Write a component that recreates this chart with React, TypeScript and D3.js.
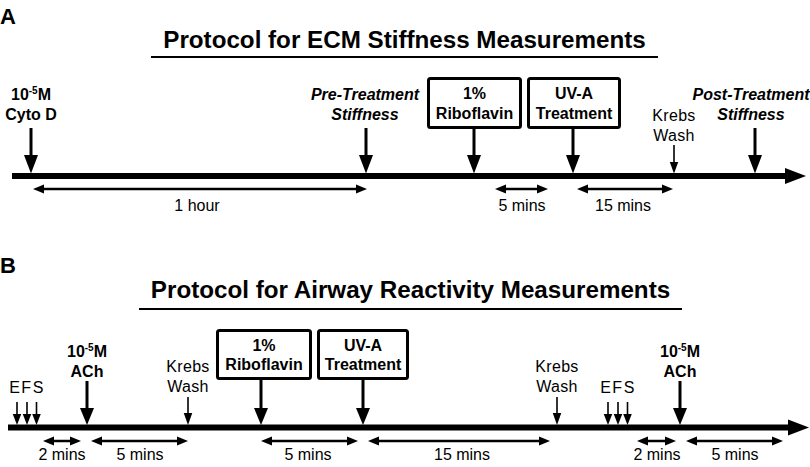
import React from "react";
import * as d3 from "d3";

const W = 810;
const H = 467;
const FONT = "'Liberation Sans', Arial, Helvetica, sans-serif";

// Panel titles
const panelLetters = ["A", "B"];
const panelTitles = [
  "Protocol for ECM Stiffness Measurements",
  "Protocol for Airway Reactivity Measurements",
];

// Events: position along the timeline (diagram units), kind, label lines
type Ev = { at: number; labelAt?: number; kind: "thick" | "thin" | "box" | "efs"; lines: string[]; style?: "bold" | "italic" | "normal" | "conc" };

const eventsA: Ev[] = [
  { at: 31, kind: "thick", lines: ["10-5M", "Cyto D"], style: "conc" },
  { at: 366, labelAt: 365, kind: "thick", lines: ["Pre-Treatment", "Stiffness"], style: "italic" },
  { at: 474, kind: "box", lines: ["1%", "Riboflavin"], style: "bold" },
  { at: 573, kind: "box", lines: ["UV-A", "Treatment"], style: "bold" },
  { at: 674, kind: "thin", lines: ["Krebs", "Wash"], style: "normal" },
  { at: 755, labelAt: 751, kind: "thick", lines: ["Post-Treatment", "Stiffness"], style: "italic" },
];

const eventsB: Ev[] = [
  { at: 27, kind: "efs", lines: ["EFS"], style: "normal" },
  { at: 87, kind: "thick", lines: ["10-5M", "ACh"], style: "conc" },
  { at: 188, kind: "thin", lines: ["Krebs", "Wash"], style: "normal" },
  { at: 261, kind: "box", lines: ["1%", "Riboflavin"], style: "bold" },
  { at: 363, kind: "box", lines: ["UV-A", "Treatment"], style: "bold" },
  { at: 557, kind: "thin", lines: ["Krebs", "Wash"], style: "normal" },
  { at: 618, kind: "efs", lines: ["EFS"], style: "normal" },
  { at: 680, kind: "thick", lines: ["10-5M", "ACh"], style: "conc" },
];

// Box extents (left, right) in diagram units
const boxesA = [[427, 522], [527, 621]];
const boxesB = [[216, 312], [317, 409]];

// Durations (start, end, label, label centre)
const spansA: [number, number, string, number][] = [
  [33, 367, "1 hour", 197],
  [495, 548, "5 mins", 522],
  [577, 673, "15 mins", 623],
];
const spansB: [number, number, string, number][] = [
  [43, 81, "2 mins", 62],
  [91, 188, "5 mins", 140],
  [261, 358, "5 mins", 308],
  [368, 550, "15 mins", 462],
  [637, 676, "2 mins", 657],
  [686, 783, "5 mins", 735],
];

const x = d3.scaleLinear().domain([0, W]).range([0, W]);

type Layout = {
  letterY: number;
  titleY: number;
  underline: [number, number, number];
  lineY: number;
  lineX: [number, number];
  thickTop: number; thickHead: number;
  thinTop: number; thinHead: number;
  efsTop: number; efsHead: number;
  tip: number;
  boxTop: number; boxBottom: number;
  textY1: number; textY2: number;
  boxY1: number; boxY2: number;
  thinY1: number; thinY2: number;
  efsY: number;
  spanY: number; spanLabelY: number;
};

const layoutA: Layout = {
  letterY: 24, titleY: 48, underline: [151, 658, 57],
  lineY: 176, lineX: [12, 806],
  thickTop: 128, thickHead: 155, thinTop: 145, thinHead: 162, efsTop: 0, efsHead: 0,
  tip: 173.5,
  boxTop: 77, boxBottom: 129,
  textY1: 100, textY2: 120, boxY1: 99, boxY2: 119,
  thinY1: 121, thinY2: 141, efsY: 0,
  spanY: 189, spanLabelY: 211,
};
const layoutB: Layout = {
  letterY: 273, titleY: 298, underline: [139, 682, 309],
  lineY: 427.5, lineX: [8, 809],
  thickTop: 381, thickHead: 408, thinTop: 397, thinHead: 413, efsTop: 402, efsHead: 414,
  tip: 425,
  boxTop: 329, boxBottom: 380,
  textY1: 357, textY2: 377, boxY1: 351, boxY2: 370,
  thinY1: 372, thinY2: 392, efsY: 393,
  spanY: 441, spanLabelY: 460,
};

const efsOffsets = [-10, 0, 9.5];

function DownArrow({ cx, top, head, tip, w, sw }: { cx: number; top: number; head: number; tip: number; w: number; sw: number }) {
  return (
    <g>
      <line x1={cx} x2={cx} y1={top} y2={head + 1} stroke="#000" strokeWidth={sw} />
      <polygon points={`${cx - w / 2},${head} ${cx + w / 2},${head} ${cx},${tip}`} fill="#000" />
    </g>
  );
}

function Span({ x1, x2, y }: { x1: number; x2: number; y: number }) {
  const hl = 11, hh = 4.5;
  return (
    <g>
      <line x1={x1 + hl - 1} x2={x2 - hl + 1} y1={y} y2={y} stroke="#000" strokeWidth={2.5} />
      <polygon points={`${x1},${y} ${x1 + hl},${y - hh} ${x1 + hl},${y + hh}`} fill="#000" />
      <polygon points={`${x2},${y} ${x2 - hl},${y - hh} ${x2 - hl},${y + hh}`} fill="#000" />
    </g>
  );
}

function Conc({ cx, y }: { cx: number; y: number }) {
  return (
    <text x={cx} y={y} textAnchor="middle" fontFamily={FONT} fontWeight="bold" fontSize={16}>
      10
      <tspan fontSize={10} dy={-6}>-5</tspan>
      <tspan dy={6}>M</tspan>
    </text>
  );
}

function Panel({ letter, title, events, boxes, spans, L }: { letter: string; title: string; events: Ev[]; boxes: number[][]; spans: [number, number, string, number][]; L: Layout }) {
  const [ux1, ux2, uy] = L.underline;
  const lineEnd = x(L.lineX[1]);
  const headLen = 21;
  let boxIdx = 0;
  return (
    <g>
      <text x={0} y={L.letterY} fontFamily={FONT} fontWeight="bold" fontSize={22}>{letter}</text>
      <text x={(x(ux1) + x(ux2)) / 2} y={L.titleY} textAnchor="middle" fontFamily={FONT} fontWeight="bold" fontSize={24.2}>{title}</text>
      <line x1={x(ux1)} x2={x(ux2)} y1={uy} y2={uy} stroke="#000" strokeWidth={2} />
      {/* timeline */}
      <rect x={x(L.lineX[0])} y={L.lineY - 3} width={lineEnd - headLen - x(L.lineX[0]) + 1} height={6} fill="#000" />
      <polygon points={`${lineEnd - headLen},${L.lineY - 8} ${lineEnd},${L.lineY} ${lineEnd - headLen},${L.lineY + 8}`} fill="#000" />
      {events.map((e, i) => {
        const cx = x(e.at);
        const lx = x(e.labelAt ?? e.at);
        if (e.kind === "box") {
          const b = boxes[boxIdx++];
          return (
            <g key={i}>
              <rect x={x(b[0]) + 1.5} y={L.boxTop + 1.5} width={x(b[1]) - x(b[0]) - 3} height={L.boxBottom - L.boxTop - 3} rx={2} fill="#fff" stroke="#000" strokeWidth={3} />
              <text x={(x(b[0]) + x(b[1])) / 2} y={L.boxY1} textAnchor="middle" fontFamily={FONT} fontWeight="bold" fontSize={16}>{e.lines[0]}</text>
              <text x={(x(b[0]) + x(b[1])) / 2} y={L.boxY2} textAnchor="middle" fontFamily={FONT} fontWeight="bold" fontSize={16}>{e.lines[1]}</text>
              <DownArrow cx={cx} top={L.boxBottom} head={L.thickHead} tip={L.tip} w={14} sw={3} />
            </g>
          );
        }
        if (e.kind === "thick") {
          return (
            <g key={i}>
              {e.style === "conc" ? (
                <Conc cx={lx} y={L.textY1} />
              ) : (
                <text x={lx} y={L.textY1} textAnchor="middle" fontFamily={FONT} fontWeight="bold" fontStyle="italic" fontSize={16}>{e.lines[0]}</text>
              )}
              <text x={lx} y={L.textY2} textAnchor="middle" fontFamily={FONT} fontWeight="bold" fontStyle={e.style === "italic" ? "italic" : "normal"} fontSize={16}>{e.lines[1]}</text>
              <DownArrow cx={cx} top={L.thickTop} head={L.thickHead} tip={L.tip} w={14} sw={3} />
            </g>
          );
        }
        if (e.kind === "thin") {
          return (
            <g key={i}>
              <text x={lx} y={L.thinY1} textAnchor="middle" fontFamily={FONT} fontSize={16} letterSpacing={0.3}>{e.lines[0]}</text>
              <text x={lx} y={L.thinY2} textAnchor="middle" fontFamily={FONT} fontSize={16} letterSpacing={0.3}>{e.lines[1]}</text>
              <DownArrow cx={cx} top={L.thinTop} head={L.thinHead} tip={L.tip} w={8.5} sw={1.6} />
            </g>
          );
        }
        // efs
        return (
          <g key={i}>
            <text x={lx} y={L.efsY} textAnchor="middle" fontFamily={FONT} fontSize={16} letterSpacing={1.5}>{e.lines[0]}</text>
            {efsOffsets.map((o, j) => (
              <DownArrow key={j} cx={cx + o} top={L.efsTop} head={L.efsHead} tip={L.tip} w={8.5} sw={1.6} />
            ))}
          </g>
        );
      })}
      {spans.map((s, i) => (
        <g key={i}>
          <Span x1={x(s[0])} x2={x(s[1])} y={L.spanY} />
          <text x={x(s[3])} y={L.spanLabelY} textAnchor="middle" fontFamily={FONT} fontSize={16}>{s[2]}</text>
        </g>
      ))}
    </g>
  );
}

export default function App() {
  return (
    <svg width={W} height={H} style={{ position: "absolute", left: 0, top: 0, background: "#fff" }}>
      <rect width={W} height={H} fill="#fff" />
      <Panel letter={panelLetters[0]} title={panelTitles[0]} events={eventsA} boxes={boxesA} spans={spansA} L={layoutA} />
      <Panel letter={panelLetters[1]} title={panelTitles[1]} events={eventsB} boxes={boxesB} spans={spansB} L={layoutB} />
    </svg>
  );
}
